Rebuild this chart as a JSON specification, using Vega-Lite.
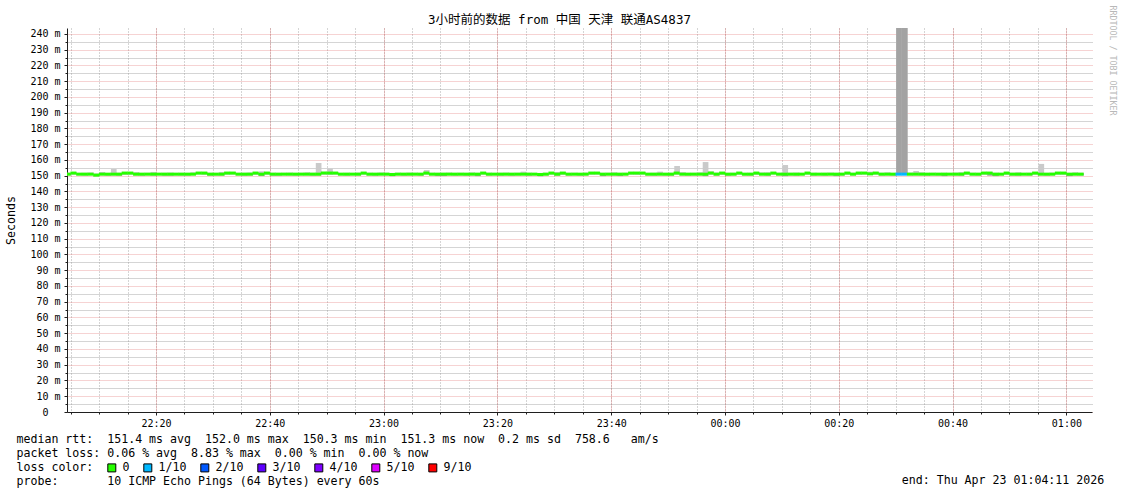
{
"$schema":"https://vega.github.io/schema/vega-lite/v6.json",
"width":1025,"height":384,
"autosize":{"type":"none"},
"padding":{"left":67,"top":28,"right":29,"bottom":82},
"background":"white",
"config":{"view":{"stroke":null},"font":"DejaVu Sans Mono","axis":{"labelFont":"DejaVu Sans Mono","labelFontSize":10,"labelColor":"#000","titleFont":"DejaVu Sans Mono","titleFontWeight":"normal","titleColor":"#000"}},
"title":{"text":"3小时前的数据 from 中国 天津 联通AS4837","font":"DejaVu Sans Mono, Noto Sans CJK SC","fontSize":12.5,"fontWeight":"normal","color":"#000","anchor":"middle","dx":-20,"offset":-21},
"data":{"values":[
{"t":"2026-04-22T22:04Z","med":151,"lo":150.2,"hi":151.9,"ilo":150.5,"ihi":151.4,"loss":"0"},
{"t":"2026-04-22T22:05Z","med":151.7,"lo":150.6,"hi":152.2,"ilo":151.2,"ihi":152,"loss":"0"},
{"t":"2026-04-22T22:06Z","med":151,"lo":150.3,"hi":151.8,"ilo":150.5,"ihi":151.4,"loss":"0"},
{"t":"2026-04-22T22:07Z","med":151,"lo":150,"hi":151.9,"ilo":150.5,"ihi":151.4,"loss":"0"},
{"t":"2026-04-22T22:08Z","med":151,"lo":150.4,"hi":152.1,"ilo":150.5,"ihi":151.4,"loss":"0"},
{"t":"2026-04-22T22:09Z","med":150.4,"lo":149.6,"hi":151.4,"ilo":149.9,"ihi":150.8,"loss":"0"},
{"t":"2026-04-22T22:10Z","med":151,"lo":150.3,"hi":152.4,"ilo":150.5,"ihi":151.4,"loss":"0"},
{"t":"2026-04-22T22:11Z","med":151,"lo":149.9,"hi":151.8,"ilo":150.5,"ihi":151.4,"loss":"0"},
{"t":"2026-04-22T22:12Z","med":151,"lo":150.2,"hi":154.3,"ilo":150.5,"ihi":151.4,"loss":"0"},
{"t":"2026-04-22T22:13Z","med":151,"lo":149.8,"hi":151.9,"ilo":150.5,"ihi":151.4,"loss":"0"},
{"t":"2026-04-22T22:14Z","med":151.7,"lo":150.5,"hi":152.3,"ilo":151.2,"ihi":152,"loss":"0"},
{"t":"2026-04-22T22:15Z","med":151.7,"lo":150.6,"hi":152.1,"ilo":151.2,"ihi":152,"loss":"0"},
{"t":"2026-04-22T22:16Z","med":151,"lo":150.1,"hi":152.3,"ilo":150.5,"ihi":151.4,"loss":"0"},
{"t":"2026-04-22T22:17Z","med":151,"lo":149.8,"hi":151.8,"ilo":150.5,"ihi":151.4,"loss":"0"},
{"t":"2026-04-22T22:18Z","med":151,"lo":150.3,"hi":151.9,"ilo":150.5,"ihi":151.4,"loss":"0"},
{"t":"2026-04-22T22:19Z","med":151,"lo":149.9,"hi":152.4,"ilo":150.5,"ihi":151.4,"loss":"0"},
{"t":"2026-04-22T22:20Z","med":151,"lo":150.4,"hi":151.8,"ilo":150.5,"ihi":151.4,"loss":"0"},
{"t":"2026-04-22T22:21Z","med":151,"lo":149.8,"hi":151.9,"ilo":150.5,"ihi":151.4,"loss":"0"},
{"t":"2026-04-22T22:22Z","med":151,"lo":149.8,"hi":152,"ilo":150.5,"ihi":151.4,"loss":"0"},
{"t":"2026-04-22T22:23Z","med":151,"lo":150.2,"hi":151.8,"ilo":150.5,"ihi":151.4,"loss":"0"},
{"t":"2026-04-22T22:24Z","med":151,"lo":150,"hi":151.9,"ilo":150.5,"ihi":151.4,"loss":"0"},
{"t":"2026-04-22T22:25Z","med":151,"lo":149.9,"hi":151.8,"ilo":150.5,"ihi":151.4,"loss":"0"},
{"t":"2026-04-22T22:26Z","med":151,"lo":150.4,"hi":152.2,"ilo":150.5,"ihi":151.4,"loss":"0"},
{"t":"2026-04-22T22:27Z","med":151.7,"lo":150.8,"hi":152.3,"ilo":151.2,"ihi":152,"loss":"0"},
{"t":"2026-04-22T22:28Z","med":151.7,"lo":150.5,"hi":152.2,"ilo":151.2,"ihi":152,"loss":"0"},
{"t":"2026-04-22T22:29Z","med":151,"lo":149.8,"hi":151.9,"ilo":150.5,"ihi":151.4,"loss":"0"},
{"t":"2026-04-22T22:30Z","med":151,"lo":150.1,"hi":151.8,"ilo":150.5,"ihi":151.4,"loss":"0"},
{"t":"2026-04-22T22:31Z","med":151,"lo":149.9,"hi":152.4,"ilo":150.5,"ihi":151.4,"loss":"0"},
{"t":"2026-04-22T22:32Z","med":151.7,"lo":150.6,"hi":152.1,"ilo":151.2,"ihi":152,"loss":"0"},
{"t":"2026-04-22T22:33Z","med":151.7,"lo":150.7,"hi":152.3,"ilo":151.2,"ihi":152,"loss":"0"},
{"t":"2026-04-22T22:34Z","med":151,"lo":150.2,"hi":151.8,"ilo":150.5,"ihi":151.4,"loss":"0"},
{"t":"2026-04-22T22:35Z","med":151,"lo":149.8,"hi":151.9,"ilo":150.5,"ihi":151.4,"loss":"0"},
{"t":"2026-04-22T22:36Z","med":151,"lo":150,"hi":152.1,"ilo":150.5,"ihi":151.4,"loss":"0"},
{"t":"2026-04-22T22:37Z","med":151.7,"lo":150.5,"hi":152.3,"ilo":151.2,"ihi":152,"loss":"0"},
{"t":"2026-04-22T22:38Z","med":151,"lo":149.7,"hi":152.8,"ilo":149.9,"ihi":151.3,"loss":"0"},
{"t":"2026-04-22T22:39Z","med":151.7,"lo":150.6,"hi":152.2,"ilo":151.2,"ihi":152,"loss":"0"},
{"t":"2026-04-22T22:40Z","med":151,"lo":149.8,"hi":151.9,"ilo":150.5,"ihi":151.4,"loss":"0"},
{"t":"2026-04-22T22:41Z","med":151,"lo":149.8,"hi":151.8,"ilo":150.5,"ihi":151.4,"loss":"0"},
{"t":"2026-04-22T22:42Z","med":151,"lo":150.3,"hi":151.9,"ilo":150.5,"ihi":151.4,"loss":"0"},
{"t":"2026-04-22T22:43Z","med":151,"lo":150.1,"hi":152,"ilo":150.5,"ihi":151.4,"loss":"0"},
{"t":"2026-04-22T22:44Z","med":151,"lo":149.9,"hi":151.8,"ilo":150.5,"ihi":151.4,"loss":"0"},
{"t":"2026-04-22T22:45Z","med":151,"lo":150.3,"hi":151.9,"ilo":150.5,"ihi":151.4,"loss":"0"},
{"t":"2026-04-22T22:46Z","med":151,"lo":150.2,"hi":152.2,"ilo":150.5,"ihi":151.4,"loss":"0"},
{"t":"2026-04-22T22:47Z","med":151,"lo":149.8,"hi":151.9,"ilo":150.5,"ihi":151.4,"loss":"0"},
{"t":"2026-04-22T22:48Z","med":151,"lo":149.9,"hi":158.1,"ilo":150.5,"ihi":151.4,"loss":"0"},
{"t":"2026-04-22T22:49Z","med":151.7,"lo":150.6,"hi":152.4,"ilo":151.2,"ihi":152,"loss":"0"},
{"t":"2026-04-22T22:50Z","med":151.7,"lo":150.5,"hi":154.5,"ilo":151.2,"ihi":152,"loss":"0"},
{"t":"2026-04-22T22:51Z","med":151.7,"lo":150.7,"hi":152.2,"ilo":151.2,"ihi":152,"loss":"0"},
{"t":"2026-04-22T22:52Z","med":151,"lo":150.2,"hi":151.8,"ilo":150.5,"ihi":151.4,"loss":"0"},
{"t":"2026-04-22T22:53Z","med":151,"lo":149.9,"hi":151.9,"ilo":150.5,"ihi":151.4,"loss":"0"},
{"t":"2026-04-22T22:54Z","med":151,"lo":150.3,"hi":151.8,"ilo":150.5,"ihi":151.4,"loss":"0"},
{"t":"2026-04-22T22:55Z","med":151,"lo":150,"hi":152,"ilo":150.5,"ihi":151.4,"loss":"0"},
{"t":"2026-04-22T22:56Z","med":151.7,"lo":150.6,"hi":152.2,"ilo":151.2,"ihi":152,"loss":"0"},
{"t":"2026-04-22T22:57Z","med":151,"lo":150.1,"hi":151.9,"ilo":150.5,"ihi":151.4,"loss":"0"},
{"t":"2026-04-22T22:58Z","med":151,"lo":149.8,"hi":151.8,"ilo":150.5,"ihi":151.4,"loss":"0"},
{"t":"2026-04-22T22:59Z","med":151,"lo":150.3,"hi":152.1,"ilo":150.5,"ihi":151.4,"loss":"0"},
{"t":"2026-04-22T23:00Z","med":151,"lo":150.2,"hi":151.9,"ilo":150.5,"ihi":151.4,"loss":"0"},
{"t":"2026-04-22T23:01Z","med":150.8,"lo":149.6,"hi":151.8,"ilo":149.8,"ihi":151.1,"loss":"0"},
{"t":"2026-04-22T23:02Z","med":151,"lo":150.3,"hi":151.9,"ilo":150.5,"ihi":151.4,"loss":"0"},
{"t":"2026-04-22T23:03Z","med":151,"lo":149.9,"hi":151.8,"ilo":150.5,"ihi":151.4,"loss":"0"},
{"t":"2026-04-22T23:04Z","med":151,"lo":150.1,"hi":152,"ilo":150.5,"ihi":151.4,"loss":"0"},
{"t":"2026-04-22T23:05Z","med":151,"lo":150.3,"hi":151.9,"ilo":150.5,"ihi":151.4,"loss":"0"},
{"t":"2026-04-22T23:06Z","med":151,"lo":149.8,"hi":151.8,"ilo":150.5,"ihi":151.4,"loss":"0"},
{"t":"2026-04-22T23:07Z","med":151.7,"lo":150.6,"hi":153.6,"ilo":151.2,"ihi":152,"loss":"0"},
{"t":"2026-04-22T23:08Z","med":151,"lo":150.2,"hi":151.9,"ilo":150.5,"ihi":151.4,"loss":"0"},
{"t":"2026-04-22T23:09Z","med":151,"lo":149.7,"hi":151.8,"ilo":149.9,"ihi":151.3,"loss":"0"},
{"t":"2026-04-22T23:10Z","med":151,"lo":149.7,"hi":151.9,"ilo":149.9,"ihi":151.3,"loss":"0"},
{"t":"2026-04-22T23:11Z","med":151,"lo":150.3,"hi":152,"ilo":150.5,"ihi":151.4,"loss":"0"},
{"t":"2026-04-22T23:12Z","med":151,"lo":149.9,"hi":151.8,"ilo":150.5,"ihi":151.4,"loss":"0"},
{"t":"2026-04-22T23:13Z","med":151,"lo":150.1,"hi":151.9,"ilo":150.5,"ihi":151.4,"loss":"0"},
{"t":"2026-04-22T23:14Z","med":151,"lo":149.8,"hi":151.8,"ilo":150.5,"ihi":151.4,"loss":"0"},
{"t":"2026-04-22T23:15Z","med":151,"lo":150.2,"hi":152.1,"ilo":150.5,"ihi":151.4,"loss":"0"},
{"t":"2026-04-22T23:16Z","med":151,"lo":149.6,"hi":151.8,"ilo":149.9,"ihi":151.3,"loss":"0"},
{"t":"2026-04-22T23:17Z","med":151.7,"lo":150.6,"hi":152.3,"ilo":151.2,"ihi":152,"loss":"0"},
{"t":"2026-04-22T23:18Z","med":151,"lo":150,"hi":151.9,"ilo":150.5,"ihi":151.4,"loss":"0"},
{"t":"2026-04-22T23:19Z","med":151,"lo":150.3,"hi":151.8,"ilo":150.5,"ihi":151.4,"loss":"0"},
{"t":"2026-04-22T23:20Z","med":151,"lo":149.9,"hi":151.9,"ilo":150.5,"ihi":151.4,"loss":"0"},
{"t":"2026-04-22T23:21Z","med":151,"lo":150.2,"hi":152,"ilo":150.5,"ihi":151.4,"loss":"0"},
{"t":"2026-04-22T23:22Z","med":151,"lo":149.8,"hi":151.8,"ilo":150.5,"ihi":151.4,"loss":"0"},
{"t":"2026-04-22T23:23Z","med":151,"lo":150.1,"hi":151.9,"ilo":150.5,"ihi":151.4,"loss":"0"},
{"t":"2026-04-22T23:24Z","med":151,"lo":150.3,"hi":152.6,"ilo":150.5,"ihi":151.4,"loss":"0"},
{"t":"2026-04-22T23:25Z","med":151,"lo":149.8,"hi":151.9,"ilo":150.5,"ihi":151.4,"loss":"0"},
{"t":"2026-04-22T23:26Z","med":151,"lo":150.2,"hi":151.8,"ilo":150.5,"ihi":151.4,"loss":"0"},
{"t":"2026-04-22T23:27Z","med":150.8,"lo":149.5,"hi":151.8,"ilo":149.8,"ihi":151.1,"loss":"0"},
{"t":"2026-04-22T23:28Z","med":151,"lo":150.1,"hi":151.9,"ilo":150.5,"ihi":151.4,"loss":"0"},
{"t":"2026-04-22T23:29Z","med":151.7,"lo":150.6,"hi":152.2,"ilo":151.2,"ihi":152,"loss":"0"},
{"t":"2026-04-22T23:30Z","med":151,"lo":149.8,"hi":152.4,"ilo":150.5,"ihi":151.4,"loss":"0"},
{"t":"2026-04-22T23:31Z","med":151.7,"lo":150.5,"hi":152.3,"ilo":151.2,"ihi":152,"loss":"0"},
{"t":"2026-04-22T23:32Z","med":151,"lo":150,"hi":151.8,"ilo":150.5,"ihi":151.4,"loss":"0"},
{"t":"2026-04-22T23:33Z","med":151,"lo":150.3,"hi":151.9,"ilo":150.5,"ihi":151.4,"loss":"0"},
{"t":"2026-04-22T23:34Z","med":151,"lo":149.9,"hi":151.8,"ilo":150.5,"ihi":151.4,"loss":"0"},
{"t":"2026-04-22T23:35Z","med":151,"lo":150.2,"hi":152,"ilo":150.5,"ihi":151.4,"loss":"0"},
{"t":"2026-04-22T23:36Z","med":151.7,"lo":150.6,"hi":152.3,"ilo":151.2,"ihi":152,"loss":"0"},
{"t":"2026-04-22T23:37Z","med":151.7,"lo":150.7,"hi":152.2,"ilo":151.2,"ihi":152,"loss":"0"},
{"t":"2026-04-22T23:38Z","med":151,"lo":149.6,"hi":151.8,"ilo":149.9,"ihi":151.3,"loss":"0"},
{"t":"2026-04-22T23:39Z","med":151,"lo":150.2,"hi":151.9,"ilo":150.5,"ihi":151.4,"loss":"0"},
{"t":"2026-04-22T23:40Z","med":151,"lo":150,"hi":152.2,"ilo":150.5,"ihi":151.4,"loss":"0"},
{"t":"2026-04-22T23:41Z","med":151,"lo":149.7,"hi":151.8,"ilo":149.9,"ihi":151.3,"loss":"0"},
{"t":"2026-04-22T23:42Z","med":151,"lo":150.3,"hi":151.9,"ilo":150.5,"ihi":151.4,"loss":"0"},
{"t":"2026-04-22T23:43Z","med":151.7,"lo":150.6,"hi":152.3,"ilo":151.2,"ihi":152,"loss":"0"},
{"t":"2026-04-22T23:44Z","med":151.7,"lo":150.5,"hi":152.2,"ilo":151.2,"ihi":152,"loss":"0"},
{"t":"2026-04-22T23:45Z","med":151.7,"lo":150.7,"hi":152.3,"ilo":151.2,"ihi":152,"loss":"0"},
{"t":"2026-04-22T23:46Z","med":151,"lo":150.1,"hi":151.8,"ilo":150.5,"ihi":151.4,"loss":"0"},
{"t":"2026-04-22T23:47Z","med":151,"lo":149.9,"hi":151.9,"ilo":150.5,"ihi":151.4,"loss":"0"},
{"t":"2026-04-22T23:48Z","med":151,"lo":150.2,"hi":152.6,"ilo":150.5,"ihi":151.4,"loss":"0"},
{"t":"2026-04-22T23:49Z","med":151,"lo":150,"hi":151.8,"ilo":150.5,"ihi":151.4,"loss":"0"},
{"t":"2026-04-22T23:50Z","med":151,"lo":149.8,"hi":151.9,"ilo":150.5,"ihi":151.4,"loss":"0"},
{"t":"2026-04-22T23:51Z","med":151.7,"lo":150.6,"hi":156.2,"ilo":151.2,"ihi":152,"loss":"0"},
{"t":"2026-04-22T23:52Z","med":151,"lo":150.2,"hi":152.3,"ilo":150.5,"ihi":151.4,"loss":"0"},
{"t":"2026-04-22T23:53Z","med":151,"lo":149.9,"hi":151.8,"ilo":150.5,"ihi":151.4,"loss":"0"},
{"t":"2026-04-22T23:54Z","med":151,"lo":150.1,"hi":151.9,"ilo":150.5,"ihi":151.4,"loss":"0"},
{"t":"2026-04-22T23:55Z","med":151,"lo":150.3,"hi":152.2,"ilo":150.5,"ihi":151.4,"loss":"0"},
{"t":"2026-04-22T23:56Z","med":151,"lo":149.6,"hi":158.7,"ilo":149.9,"ihi":151.3,"loss":"0"},
{"t":"2026-04-22T23:57Z","med":151.7,"lo":150.6,"hi":152.8,"ilo":151.2,"ihi":152,"loss":"0"},
{"t":"2026-04-22T23:58Z","med":151,"lo":150,"hi":152,"ilo":150.5,"ihi":151.4,"loss":"0"},
{"t":"2026-04-22T23:59Z","med":151.7,"lo":150.5,"hi":152.3,"ilo":151.2,"ihi":152,"loss":"0"},
{"t":"2026-04-23T00:00Z","med":151,"lo":149.8,"hi":151.8,"ilo":150.5,"ihi":151.4,"loss":"0"},
{"t":"2026-04-23T00:01Z","med":151,"lo":150.2,"hi":151.9,"ilo":150.5,"ihi":151.4,"loss":"0"},
{"t":"2026-04-23T00:02Z","med":151.7,"lo":150.6,"hi":152.2,"ilo":151.2,"ihi":152,"loss":"0"},
{"t":"2026-04-23T00:03Z","med":151,"lo":150.1,"hi":151.8,"ilo":150.5,"ihi":151.4,"loss":"0"},
{"t":"2026-04-23T00:04Z","med":151,"lo":149.9,"hi":151.9,"ilo":150.5,"ihi":151.4,"loss":"0"},
{"t":"2026-04-23T00:05Z","med":151.7,"lo":150.5,"hi":152.3,"ilo":151.2,"ihi":152,"loss":"0"},
{"t":"2026-04-23T00:06Z","med":151,"lo":150.3,"hi":152.1,"ilo":150.5,"ihi":151.4,"loss":"0"},
{"t":"2026-04-23T00:07Z","med":151,"lo":149.8,"hi":152.2,"ilo":150.5,"ihi":151.4,"loss":"0"},
{"t":"2026-04-23T00:08Z","med":151.7,"lo":150.7,"hi":152.3,"ilo":151.2,"ihi":152,"loss":"0"},
{"t":"2026-04-23T00:09Z","med":151,"lo":150.2,"hi":151.9,"ilo":150.5,"ihi":151.4,"loss":"0"},
{"t":"2026-04-23T00:10Z","med":151,"lo":149.5,"hi":156.8,"ilo":149.9,"ihi":151.3,"loss":"0"},
{"t":"2026-04-23T00:11Z","med":151,"lo":150.1,"hi":151.9,"ilo":150.5,"ihi":151.4,"loss":"0"},
{"t":"2026-04-23T00:12Z","med":151,"lo":149.8,"hi":152,"ilo":150.5,"ihi":151.4,"loss":"0"},
{"t":"2026-04-23T00:13Z","med":151,"lo":150.3,"hi":151.8,"ilo":150.5,"ihi":151.4,"loss":"0"},
{"t":"2026-04-23T00:14Z","med":151.7,"lo":150.6,"hi":152.3,"ilo":151.2,"ihi":152,"loss":"0"},
{"t":"2026-04-23T00:15Z","med":151,"lo":150,"hi":151.9,"ilo":150.5,"ihi":151.4,"loss":"0"},
{"t":"2026-04-23T00:16Z","med":151,"lo":150.2,"hi":151.8,"ilo":150.5,"ihi":151.4,"loss":"0"},
{"t":"2026-04-23T00:17Z","med":151,"lo":149.9,"hi":151.9,"ilo":150.5,"ihi":151.4,"loss":"0"},
{"t":"2026-04-23T00:18Z","med":151,"lo":150.3,"hi":152,"ilo":150.5,"ihi":151.4,"loss":"0"},
{"t":"2026-04-23T00:19Z","med":151,"lo":149.6,"hi":151.8,"ilo":149.9,"ihi":151.3,"loss":"0"},
{"t":"2026-04-23T00:20Z","med":151,"lo":150.1,"hi":151.9,"ilo":150.5,"ihi":151.4,"loss":"0"},
{"t":"2026-04-23T00:21Z","med":151.7,"lo":150.6,"hi":152.3,"ilo":151.2,"ihi":152,"loss":"0"},
{"t":"2026-04-23T00:22Z","med":151,"lo":150.2,"hi":151.9,"ilo":150.5,"ihi":151.4,"loss":"0"},
{"t":"2026-04-23T00:23Z","med":151.7,"lo":150.5,"hi":152.2,"ilo":151.2,"ihi":152,"loss":"0"},
{"t":"2026-04-23T00:24Z","med":151.7,"lo":150.7,"hi":152.4,"ilo":151.2,"ihi":152,"loss":"0"},
{"t":"2026-04-23T00:25Z","med":151.2,"lo":150.4,"hi":152.6,"ilo":150.7,"ihi":151.6,"loss":"0"},
{"t":"2026-04-23T00:26Z","med":151.7,"lo":150.6,"hi":152.3,"ilo":151.2,"ihi":152,"loss":"0"},
{"t":"2026-04-23T00:27Z","med":151,"lo":150,"hi":151.9,"ilo":150.5,"ihi":151.4,"loss":"0"},
{"t":"2026-04-23T00:28Z","med":151,"lo":150.3,"hi":152.2,"ilo":150.5,"ihi":151.4,"loss":"0"},
{"t":"2026-04-23T00:29Z","med":151,"lo":149.9,"hi":151.8,"ilo":150.5,"ihi":151.4,"loss":"0"},
{"t":"2026-04-23T00:30Z","med":151,"lo":150.5,"hi":243.8,"ilo":151,"ihi":243.8,"loss":"1/10"},
{"t":"2026-04-23T00:31Z","med":151,"lo":150.5,"hi":243.8,"ilo":151,"ihi":243.8,"loss":"1/10"},
{"t":"2026-04-23T00:32Z","med":151,"lo":150.2,"hi":152,"ilo":150.5,"ihi":151.4,"loss":"0"},
{"t":"2026-04-23T00:33Z","med":151,"lo":150.3,"hi":153,"ilo":150.5,"ihi":151.4,"loss":"0"},
{"t":"2026-04-23T00:34Z","med":151,"lo":150.1,"hi":152.2,"ilo":150.5,"ihi":151.4,"loss":"0"},
{"t":"2026-04-23T00:35Z","med":151,"lo":149.9,"hi":151.8,"ilo":150.5,"ihi":151.4,"loss":"0"},
{"t":"2026-04-23T00:36Z","med":151,"lo":150.2,"hi":151.9,"ilo":150.5,"ihi":151.4,"loss":"0"},
{"t":"2026-04-23T00:37Z","med":151,"lo":150,"hi":151.8,"ilo":150.5,"ihi":151.4,"loss":"0"},
{"t":"2026-04-23T00:38Z","med":151,"lo":149.6,"hi":151.9,"ilo":149.9,"ihi":151.3,"loss":"0"},
{"t":"2026-04-23T00:39Z","med":151,"lo":150.3,"hi":151.8,"ilo":150.5,"ihi":151.4,"loss":"0"},
{"t":"2026-04-23T00:40Z","med":151,"lo":150.1,"hi":152,"ilo":150.5,"ihi":151.4,"loss":"0"},
{"t":"2026-04-23T00:41Z","med":151,"lo":149.8,"hi":152.3,"ilo":150.5,"ihi":151.4,"loss":"0"},
{"t":"2026-04-23T00:42Z","med":151.7,"lo":150.6,"hi":152.2,"ilo":151.2,"ihi":152,"loss":"0"},
{"t":"2026-04-23T00:43Z","med":151,"lo":150.2,"hi":151.9,"ilo":150.5,"ihi":151.4,"loss":"0"},
{"t":"2026-04-23T00:44Z","med":151,"lo":150,"hi":151.8,"ilo":150.5,"ihi":151.4,"loss":"0"},
{"t":"2026-04-23T00:45Z","med":151.7,"lo":150.6,"hi":152.3,"ilo":151.2,"ihi":152,"loss":"0"},
{"t":"2026-04-23T00:46Z","med":151.7,"lo":150,"hi":152.2,"ilo":150.1,"ihi":152,"loss":"0"},
{"t":"2026-04-23T00:47Z","med":151,"lo":149.6,"hi":151.9,"ilo":149.9,"ihi":151.3,"loss":"0"},
{"t":"2026-04-23T00:48Z","med":151,"lo":150.2,"hi":151.8,"ilo":150.5,"ihi":151.4,"loss":"0"},
{"t":"2026-04-23T00:49Z","med":151.7,"lo":150.5,"hi":152.2,"ilo":151.2,"ihi":152,"loss":"0"},
{"t":"2026-04-23T00:50Z","med":151,"lo":150,"hi":151.9,"ilo":150.5,"ihi":151.4,"loss":"0"},
{"t":"2026-04-23T00:51Z","med":151,"lo":149.8,"hi":152.2,"ilo":150.5,"ihi":151.4,"loss":"0"},
{"t":"2026-04-23T00:52Z","med":151,"lo":150.3,"hi":151.8,"ilo":150.5,"ihi":151.4,"loss":"0"},
{"t":"2026-04-23T00:53Z","med":151,"lo":150.1,"hi":151.9,"ilo":150.5,"ihi":151.4,"loss":"0"},
{"t":"2026-04-23T00:54Z","med":151.7,"lo":150.6,"hi":152.3,"ilo":151.2,"ihi":152,"loss":"0"},
{"t":"2026-04-23T00:55Z","med":151,"lo":150.2,"hi":157.5,"ilo":150.5,"ihi":151.4,"loss":"0"},
{"t":"2026-04-23T00:56Z","med":151,"lo":149.9,"hi":151.8,"ilo":150.5,"ihi":151.4,"loss":"0"},
{"t":"2026-04-23T00:57Z","med":151,"lo":150.3,"hi":152,"ilo":150.5,"ihi":151.4,"loss":"0"},
{"t":"2026-04-23T00:58Z","med":151.7,"lo":150.6,"hi":152.3,"ilo":151.2,"ihi":152,"loss":"0"},
{"t":"2026-04-23T00:59Z","med":151.7,"lo":150.5,"hi":152.2,"ilo":151.2,"ihi":152,"loss":"0"},
{"t":"2026-04-23T01:00Z","med":151,"lo":149.6,"hi":151.8,"ilo":149.9,"ihi":151.3,"loss":"0"},
{"t":"2026-04-23T01:01Z","med":151,"lo":150.2,"hi":152.2,"ilo":150.5,"ihi":151.4,"loss":"0"},
{"t":"2026-04-23T01:02Z","med":151,"lo":150,"hi":151.9,"ilo":150.5,"ihi":151.4,"loss":"0"}
]},
"layer":[
{"mark":{"type":"bar","color":"#cacaca","clip":true,"binSpacing":0},
 "encoding":{
  "x":{"field":"t","type":"temporal","timeUnit":"utcyearmonthdatehoursminutes",
   "scale":{"type":"utc","domain":[1776895462000,1776906270000]},
   "axis":{"orient":"bottom","values":[1776895500000,1776895800000,1776896100000,1776896400000,1776896700000,1776897000000,1776897300000,1776897600000,1776897900000,1776898200000,1776898500000,1776898800000,1776899100000,1776899400000,1776899700000,1776900000000,1776900300000,1776900600000,1776900900000,1776901200000,1776901500000,1776901800000,1776902100000,1776902400000,1776902700000,1776903000000,1776903300000,1776903600000,1776903900000,1776904200000,1776904500000,1776904800000,1776905100000,1776905400000,1776905700000,1776906000000],"grid":true,"gridColor":"#8f8f8f","gridOpacity":0.75,"gridDash":[1,2],"labels":false,"domain":false,"ticks":true,"tickSize":2,"tickColor":"#1f1f1f","title":null}},
  "y":{"field":"lo","type":"quantitative","scale":{"domain":[0,243.8],"nice":false,"zero":false},
   "axis":{"orient":"left","values":[5,15,25,35,45,55,65,75,85,95,105,115,125,135,145,155,165,175,185,195,205,215,225,235],"grid":true,"gridColor":"#8f8f8f","gridOpacity":0.75,"gridDash":[1,1],"labels":false,"domain":false,"ticks":true,"tickSize":2,"tickColor":"#1f1f1f","title":null}},
  "y2":{"field":"hi"}
 }},
{"mark":{"type":"bar","color":"#a3a3a3","clip":true,"binSpacing":0},
 "encoding":{
  "x":{"field":"t","type":"temporal","timeUnit":"utcyearmonthdatehoursminutes",
   "axis":{"orient":"bottom","values":[1776896400000,1776897600000,1776898800000,1776900000000,1776901200000,1776902400000,1776903600000,1776904800000,1776906000000],"labelExpr":"utcFormat(datum.value, '%H:%M')","grid":true,"gridColor":"#de5050","gridOpacity":0.5,"gridDash":[1,1],"domain":true,"domainColor":"#1f1f1f","ticks":true,"tickSize":3,"tickColor":"#1f1f1f","labelPadding":3,"labelFontSize":10,
    "title":["median rtt:\u00a0\u00a0151.4 ms avg\u00a0\u00a0152.0 ms max\u00a0\u00a0150.3 ms min\u00a0\u00a0151.3 ms now\u00a0\u00a00.2 ms sd\u00a0\u00a0758.6\u00a0\u00a0\u00a0am/s","packet loss: 0.06 % avg\u00a0\u00a08.83 % max\u00a0\u00a00.00 % min\u00a0\u00a00.00 % now","loss color:","probe:\u00a0\u00a0\u00a0\u00a0\u00a0\u00a0\u00a010 ICMP Echo Pings (64 Bytes) every 60s"],
    "titleFontSize":11.6,"titleAlign":"left","titleX":-51,"titleY":30,"titleBaseline":"alphabetic","titleLineHeight":14}},
  "y":{"field":"ilo","type":"quantitative",
   "axis":{"orient":"left","values":[0,10,20,30,40,50,60,70,80,90,100,110,120,130,140,150,160,170,180,190,200,210,220,230,240],"labelExpr":"datum.value == 0 ? '0' : datum.value + ' m'","labelPadding":{"condition":{"test":"datum.value == 0","value":16},"value":4},"grid":true,"gridColor":"#de5050","gridOpacity":0.5,"gridDash":[1,1],"domain":true,"domainColor":"#1f1f1f","ticks":true,"tickSize":3,"tickColor":"#1f1f1f","labelFontSize":10,
    "title":"Seconds","titleFontSize":11.6,"titleX":-56,"titleY":192,"titleAngle":-90,"titleAlign":"center","titleBaseline":"middle"}},
  "y2":{"field":"ihi"}
 }},
{"mark":{"type":"tick","orient":"horizontal","size":6,"thickness":3,"clip":true,"opacity":1},
 "encoding":{
  "x":{"field":"t","type":"temporal","timeUnit":"utcyearmonthdatehoursminutes","bandPosition":0.5,"axis":null},
  "y":{"field":"med","type":"quantitative",
   "axis":{"orient":"right","labels":false,"ticks":false,"domain":false,"grid":false,"title":"RRDTOOL / TOBI OETIKER","titleFont":"DejaVu Sans Mono","titleFontSize":8.3,"titleColor":"#b8b8b8","titleAngle":90,"titleX":19,"titleY":-23,"titleAlign":"left","titleBaseline":"middle"}},
  "color":{"field":"loss","type":"nominal",
   "scale":{"domain":["0","1/10","2/10","3/10","4/10","5/10","9/10"],"range":["#26ff00","#00b8ff","#0059ff","#5e00ff","#7e00ff","#dd00ff","#ff0000"]},
   "legend":{"orient":"none","legendX":39,"legendY":434,"direction":"horizontal","title":null,"symbolType":"square","symbolSize":64,"symbolStrokeColor":"#000","symbolStrokeWidth":1,"symbolOpacity":1,"labelFont":"DejaVu Sans Mono","labelFontSize":11.6,"labelColor":"#000","labelOffset":5,"columnPadding":11,"padding":0}}
 }},
{"data":{"values":[{"end":"2026-04-23T01:04:11Z","label":"end: Thu Apr 23 01:04:11 2026"}]},
 "mark":{"type":"text","align":"right","baseline":"alphabetic","dx":14,"dy":72,"font":"DejaVu Sans Mono","fontSize":11.6,"color":"#000"},
 "encoding":{
  "x":{"field":"end","type":"temporal","axis":null},
  "y":{"datum":0,"type":"quantitative","axis":null},
  "text":{"field":"label"}
 }}
],
"resolve":{"axis":{"x":"independent","y":"independent"}}
}
